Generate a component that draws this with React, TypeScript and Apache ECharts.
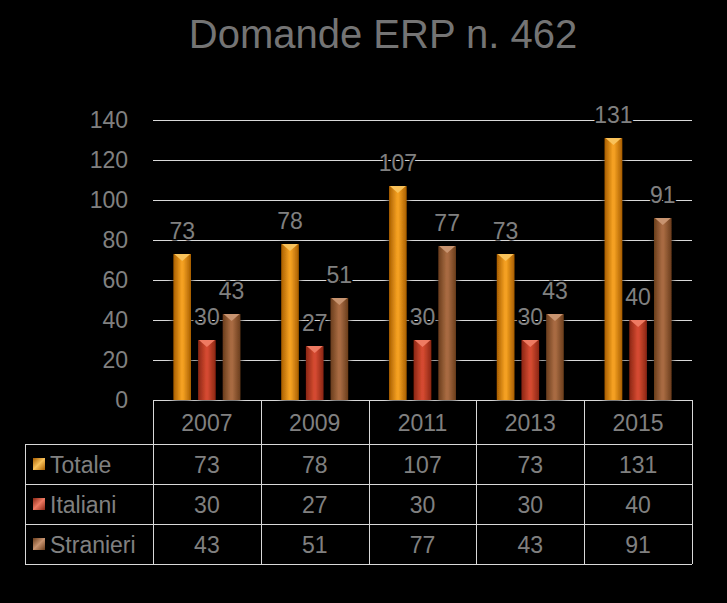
import React, { useEffect, useRef } from "react";
import * as echarts from "echarts";

const titleText = "Domande ERP n. 462";
const categories = ["2007", "2009", "2011", "2013", "2015"];
const seriesNames = ["Totale", "Italiani", "Stranieri"];
const totale = [73, 78, 107, 73, 131];
const italiani = [30, 27, 30, 30, 40];
const stranieri = [43, 51, 77, 43, 91];
const yMin = 0;
const yMax = 140;
const yStep = 20;

const seriesValues = [totale, italiani, stranieri];
const palette = [
  { edge: "#a85e00", center: "#f4a021", cap: "#f9c25a" },
  { edge: "#8a2614", center: "#d44a30", cap: "#ee7a62" },
  { edge: "#6a3d1c", center: "#a86b42", cap: "#c89470" },
];

const FONT = '"Liberation Sans", "DejaVu Sans", sans-serif';
const TEXT = "#808080";
const LINE = "#d9d9d9";

// layout
const G_LEFT = 153;
const G_RIGHT = 692;
const G_TOP = 120;
const G_BOTTOM = 400;
const T_LEFT = 25;
const HEADER_H = 44;
const ROW_H = 40;

function barGradient(c: { edge: string; center: string }) {
  return new echarts.graphic.LinearGradient(0, 0, 1, 0, [
    { offset: 0, color: c.edge },
    { offset: 0.45, color: c.center },
    { offset: 0.55, color: c.center },
    { offset: 1, color: c.edge },
  ]);
}

function buildTable() {
  const els: any[] = [];
  const colW = (G_RIGHT - G_LEFT) / categories.length;
  const headerBottom = G_BOTTOM + HEADER_H;
  const tableBottom = headerBottom + ROW_H * seriesNames.length;
  const line = (x1: number, y1: number, x2: number, y2: number) => ({
    type: "line",
    silent: true,
    shape: { x1, y1, x2, y2 },
    style: { stroke: LINE, lineWidth: 1 },
  });
  els.push(line(G_LEFT, G_BOTTOM + 0.5, G_RIGHT, G_BOTTOM + 0.5));
  for (let r = 0; r <= seriesNames.length; r++) {
    const y = headerBottom + r * ROW_H + 0.5;
    els.push(line(T_LEFT, y, G_RIGHT, y));
  }
  els.push(line(T_LEFT + 0.5, headerBottom, T_LEFT + 0.5, tableBottom));
  for (let c = 0; c <= categories.length; c++) {
    const x = Math.round(G_LEFT + c * colW) + 0.5;
    els.push(line(x, G_BOTTOM, x, tableBottom));
  }
  const txt = (text: string, x: number, y: number, align: string) => ({
    type: "text",
    silent: true,
    style: {
      text,
      x,
      y,
      fill: TEXT,
      font: `23px ${FONT}`,
      textAlign: align,
      textVerticalAlign: "middle",
    },
  });
  categories.forEach((cat, c) => {
    els.push(txt(cat, G_LEFT + (c + 0.5) * colW, G_BOTTOM + HEADER_H / 2 + 1, "center"));
  });
  seriesNames.forEach((name, r) => {
    const cy = headerBottom + (r + 0.5) * ROW_H;
    const p = palette[r];
    els.push({
      type: "rect",
      silent: true,
      shape: { x: 33, y: cy - 6, width: 12, height: 12 },
      style: {
        fill: new echarts.graphic.LinearGradient(0, 0, 1, 1, [
          { offset: 0, color: p.edge },
          { offset: 0.5, color: p.cap },
          { offset: 1, color: p.edge },
        ]),
      },
    });
    els.push(txt(name, 50, cy + 1, "left"));
    seriesValues[r].forEach((v, c) => {
      els.push(txt(String(v), G_LEFT + (c + 0.5) * colW, cy + 1, "center"));
    });
  });
  // title
  els.push({
    type: "text",
    silent: true,
    style: {
      text: titleText,
      x: 383,
      y: 34,
      fill: "#747474",
      font: `40px ${FONT}`,
      textAlign: "center",
      textVerticalAlign: "middle",
    },
  });
  return els;
}

export default function App() {
  const ref = useRef<HTMLDivElement>(null);
  useEffect(() => {
    if (!ref.current) return;
    const chart = echarts.init(ref.current, null, { renderer: "svg" });
    const barSeries = seriesNames.map((name, i) => ({
      name,
      type: "bar",
      data: seriesValues[i],
      barGap: "41%",
      barCategoryGap: "38%",
      itemStyle: {
        color: barGradient(palette[i]),
        shadowBlur: 6,
        shadowColor: "rgba(0,0,0,1)",
      },
      label: {
        show: true,
        position: "top",
        distance: 12,
        color: TEXT,
        fontSize: 23,
        fontFamily: FONT,
        textBorderColor: "#000",
        textBorderWidth: 3,
      },
      z: 2,
    }));
    const capSeries = seriesNames.map((name, i) => ({
      name: name + "-cap",
      type: "pictorialBar",
      data: seriesValues[i],
      barGap: "41%",
      barCategoryGap: "38%",
      symbol: "triangle",
      symbolRotate: 180,
      symbolSize: [16, 7],
      symbolPosition: "end",
      symbolOffset: [0, 0],
      silent: true,
      itemStyle: { color: palette[i].cap },
      label: { show: false },
      z: 3,
    }));
    chart.setOption({
      animation: false,
      backgroundColor: "#000",
      grid: {
        left: G_LEFT,
        right: 727 - G_RIGHT,
        top: G_TOP,
        bottom: 603 - G_BOTTOM,
      },
      xAxis: {
        type: "category",
        data: categories,
        axisLabel: { show: false },
        axisTick: { show: false },
        axisLine: { show: false },
      },
      yAxis: {
        type: "value",
        min: yMin,
        max: yMax,
        interval: yStep,
        axisLine: { show: false },
        axisTick: { show: false },
        axisLabel: {
          color: TEXT,
          fontSize: 23,
          fontFamily: FONT,
          margin: 25,
        },
        splitLine: { lineStyle: { color: LINE, width: 1 } },
      },
      series: [...barSeries, ...capSeries],
      graphic: buildTable(),
    });
    return () => chart.dispose();
  }, []);
  return (
    <div
      ref={ref}
      style={{ position: "fixed", left: 0, top: 0, width: 727, height: 603, background: "#000" }}
    />
  );
}
